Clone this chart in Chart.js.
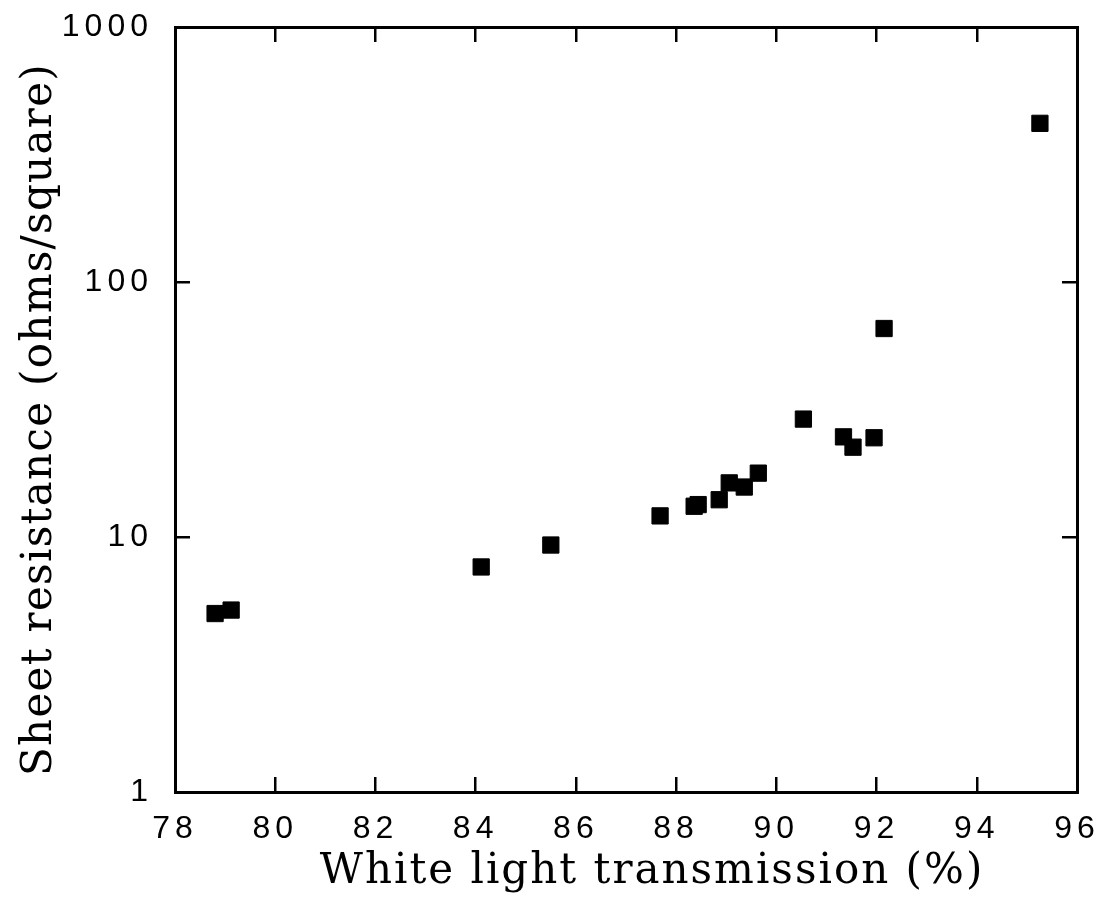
<!DOCTYPE html>
<html>
<head>
<meta charset="utf-8">
<title>Sheet resistance vs. white light transmission</title>
<script src="https://cdn.jsdelivr.net/npm/chart.js@4.4.1/dist/chart.umd.min.js"></script>
<style>
  html, body { margin: 0; padding: 0; background: #fff; }
</style>
</head>
<body>
<canvas id="chart" width="1105" height="910"></canvas>
<script>
(function () {
  "use strict";

  // --- measured samples: transmission (%) and sheet resistance (ohms/square) ---
  const transmission = [78.80, 79.12, 84.11, 85.50, 87.68, 88.36, 88.44, 88.86, 89.06, 89.36, 89.64, 90.54, 91.34, 91.53, 91.95, 92.15, 95.26];
  const resistance   = [5.01, 5.17, 7.63, 9.30, 12.1, 13.2, 13.4, 14.0, 16.3, 15.7, 17.8, 29.0, 24.7, 22.5, 24.5, 65.7, 419];

  const xTicks = [78, 80, 82, 84, 86, 88, 90, 92, 94, 96];
  const yTicks = [1, 10, 100, 1000];

  const TICK_FONT = { family: "'Liberation Sans', Arial, sans-serif", size: 32 };
  const TITLE_FONT = { family: "'DejaVu Serif', serif", size: 42 };
  const LABEL_SPACING = "5px";

  // only the listed tick values (the log scale would add 2..9 otherwise)
  const keepTicks = (vals) => (scale) => { scale.ticks = vals.map(v => ({ value: v })); };

  // fixed axis band sizes, and no extra room reserved for overhanging labels
  const fixSize = (key, px) => (scale) => {
    scale[key] = px;
    scale.paddingTop = scale.paddingBottom = scale.paddingLeft = scale.paddingRight = 0;
  };

  // frame line + short tick marks pointing into the plot
  const frame = {
    grid: { drawOnChartArea: false, drawTicks: true, tickLength: -15, color: "#000", lineWidth: 2.5 },
    border: { display: true, color: "#000", width: 3 }
  };

  // wider letter spacing for labels and titles; titles can be nudged off-centre
  const axisTweaks = {
    id: "axisTweaks",
    beforeDraw(chart) {
      Object.values(chart.scales).forEach(s => {
        if (s._tweaked) return;
        s._tweaked = true;
        const drawLabels = s.drawLabels;
        s.drawLabels = function (area) {
          this.ctx.save();
          this.ctx.letterSpacing = LABEL_SPACING;
          drawLabels.call(this, area);
          this.ctx.restore();
        };
        const shift = s.options.titleShift || [0, 0];
        const spacing = s.options.titleSpacing || "0px";
        const drawTitle = s.drawTitle;
        s.drawTitle = function () {
          this.ctx.save();
          this.ctx.letterSpacing = spacing;
          this.ctx.translate(shift[0], shift[1]);
          drawTitle.call(this);
          this.ctx.restore();
        };
      });
    }
  };

  const points = transmission.map((t, i) => ({ x: t, y: resistance[i] }));

  new Chart(document.getElementById("chart"), {
    type: "scatter",
    data: {
      datasets: [{
        data: points,
        pointStyle: "rect",
        pointRadius: 11.5,
        pointBorderWidth: 1,
        backgroundColor: "#000",
        borderColor: "#000",
        showLine: false
      }]
    },
    options: {
      responsive: false,
      animation: false,
      devicePixelRatio: 1,
      layout: { padding: 0 },
      plugins: { legend: { display: false }, tooltip: { enabled: false } },
      scales: {
        x: {
          type: "linear", position: "bottom", min: 78, max: 96,
          afterBuildTicks: keepTicks(xTicks),
          afterFit: fixSize("height", 118),
          ...frame,
          ticks: { color: "#000", font: TICK_FONT, padding: 33, maxRotation: 0, autoSkip: false, callback: v => String(v) },
          title: { display: true, text: "White light transmission (%)", color: "#000", font: TITLE_FONT, padding: { top: 0, bottom: 13 } },
          titleShift: [26, 0],
          titleSpacing: "2px"
        },
        x2: {
          type: "linear", position: "top", min: 78, max: 96,
          afterBuildTicks: keepTicks(xTicks),
          afterFit: fixSize("height", 27),
          ...frame,
          ticks: { display: false }
        },
        y: {
          type: "logarithmic", position: "left", min: 1, max: 1000,
          afterBuildTicks: keepTicks(yTicks),
          afterFit: fixSize("width", 175),
          ...frame,
          ticks: { color: "#000", font: TICK_FONT, padding: 37, autoSkip: false, callback: v => String(v) },
          title: { display: true, text: "Sheet resistance (ohms/square)", color: "#000", font: TITLE_FONT, padding: { top: 15, bottom: 0 } },
          titleShift: [0, 10],
          titleSpacing: "1.3px"
        },
        y2: {
          type: "logarithmic", position: "right", min: 1, max: 1000,
          afterBuildTicks: keepTicks(yTicks),
          afterFit: fixSize("width", 28),
          ...frame,
          ticks: { display: false }
        }
      }
    },
    plugins: [axisTweaks]
  });
})();
</script>
</body>
</html>
